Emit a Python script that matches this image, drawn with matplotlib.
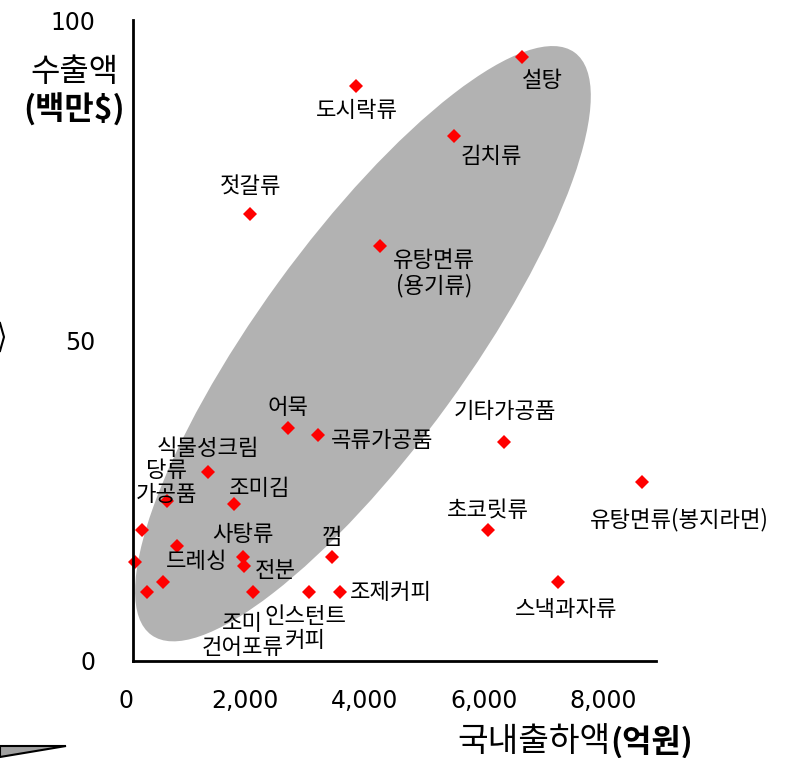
import matplotlib
matplotlib.use("Agg")
from matplotlib import pyplot as plt
from matplotlib.patches import Ellipse, Polygon
from matplotlib.transforms import IdentityTransform

plt.rcParams['font.family'] = ['Noto Sans CJK KR', 'DejaVu Sans']

# domestic shipments (100M won) vs exports (M$)
names = ['설탕', '도시락류', '김치류', '젓갈류', '유탕면류\n(용기류)', '어묵', '곡류가공품',
         '기타가공품', '유탕면류(봉지라면)', '식물성크림', '당류\n가공품', '조미김', '초코릿류',
         '', '드레싱', '', '사탕류', '전분', '껌', '스낵과자류', '', '',
         '조미\n건어포류', '인스턴트\n커피', '조제커피']
ship = [6636, 3860, 5502, 2088, 4262, 2725, 3231,
        6340, 8648, 1384, 687, 1820, 6067,
        278, 855, 151, 1971, 1988, 3466, 7250, 620, 352,
        2128, 3067, 3591]
export = [94.2, 89.7, 81.9, 69.7, 64.7, 36.4, 35.2,
          34.2, 27.9, 29.5, 24.9, 24.5, 20.4,
          20.4, 18.0, 15.4, 16.3, 14.8, 16.2, 12.3, 12.3, 10.7,
          10.7, 10.7, 10.7]
# label offsets in pixels
offs = [(21, -23), (1, -24), (37, -20), (0, 28), (54, -27), (0, 20), (64, -5),
        (1, 30), (38, -37), (0, 23), (0, 19), (25, 15), (0, 20),
        (0, 0), (20, -16), (0, 0), (0, 22), (31, -4), (0, 20), (8, -27), (0, 0), (0, 0),
        (-10, -43), (-3, -36), (51, 0)]

xticks = [0, 2000, 4000, 6000, 8000]
xticklabels = ['0', '2,000', '4,000', '6,000', '8,000']
yticks = [0, 50, 100]

fig = plt.figure(figsize=(7.94, 7.58), dpi=100)
ax = fig.add_axes([133/794, 1-661/758, 523/794, 641/758])

ax.set_xticks(xticks)
ax.set_xticklabels(xticklabels, family='DejaVu Sans', fontsize=17)
ax.set_yticks(yticks)
ax.set_yticklabels([str(v) for v in yticks], family='DejaVu Sans', fontsize=17)
ax.tick_params(axis='x', length=0, pad=20)
ax.tick_params(axis='y', length=0, pad=27)
# the value axis crosses a little right of x=0
ax.set_xlim(122, 8890)
ax.set_ylim(0, 100)
# so the "0" label sits just outside the axes and is drawn by hand
ax.annotate(xticklabels[0], xy=(xticks[0], 0), xycoords=('data', 'axes fraction'),
            xytext=(0, -20), textcoords='offset points', ha='center', va='top',
            family='DejaVu Sans', fontsize=17, annotation_clip=False)

# grey highlight ellipse (drawn in pixel space)
cx, cy = ax.transData.transform((3977, 49.5))
ell = Ellipse((cx, cy), 720, 209, angle=54, transform=IdentityTransform(),
              facecolor='#b2b2b2', edgecolor='none', zorder=1, clip_on=False)
ax.add_artist(ell)

ax.plot(ship, export, linestyle='none', marker='D', markersize=7,
        color='#ff0000', markeredgewidth=0, zorder=2, clip_on=False)

for n, x, y, o in zip(names, ship, export, offs):
    if n:
        ax.annotate(n, (x, y), xytext=o, textcoords='offset pixels',
                    ha='center', va='center', multialignment='center',
                    fontsize=16, linespacing=1.05, zorder=3)

for s in ['top', 'right']:
    ax.spines[s].set_visible(False)
for s in ['left', 'bottom']:
    ax.spines[s].set_linewidth(2)

fig.text(74/794, 1-72/758, '수출액', ha='center', va='center', fontsize=23)
fig.text(74/794, 1-110/758, '(백만$)', ha='center', va='center', fontsize=23,
         fontweight='bold')
fig.text(610/794, 1-742/758, '국내출하액', ha='right', va='center', fontsize=24)
fig.text(610/794, 1-742/758, '(억원)', ha='left', va='center', fontsize=23,
         fontweight='bold')

# cut-off shapes at the left edge
W, H = 794, 758
fig.add_artist(Polygon([(0, 1-746/H), (66/W, 1-746/H), (0, 1-757/H)],
                       closed=True, facecolor='#a0a0a0', edgecolor='black',
                       linewidth=1.5, transform=fig.transFigure))
fig.add_artist(plt.Line2D([0, 4/W, 0], [1-323/H, 1-337/H, 1-351/H],
                          color='black', linewidth=1.5, transform=fig.transFigure))

fig.savefig('out.png', dpi=100)
